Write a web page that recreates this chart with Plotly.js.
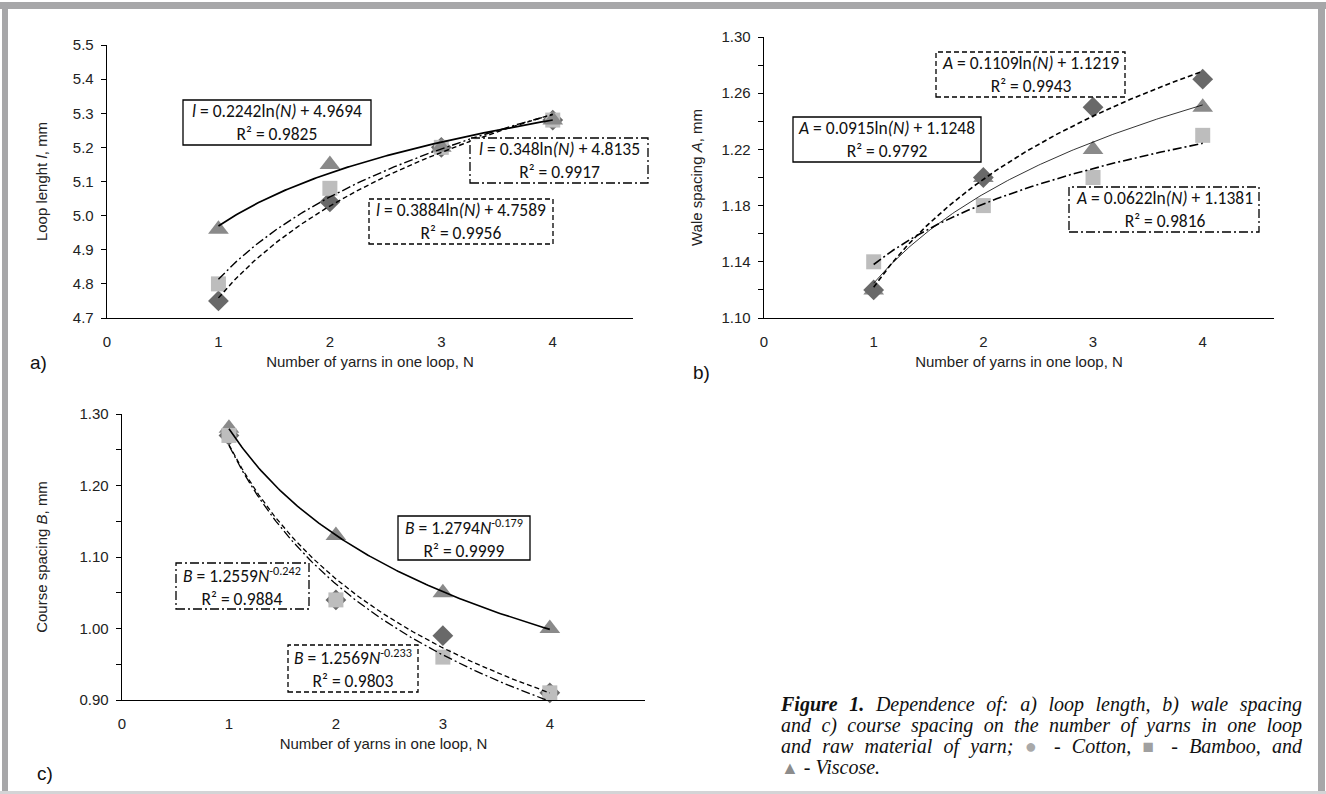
<!DOCTYPE html>
<html>
<head>
<meta charset="utf-8">
<script src="https://cdn.plot.ly/plotly-3.0.1.min.js"></script>
<style>
  html, body { margin: 0; padding: 0; background: #fff; }
  #wrap { position: relative; width: 1326px; height: 794px; overflow: hidden; }
  #chart { position: absolute; left: 0; top: 0; width: 1326px; height: 794px; }
  #caption { position: absolute; left: 781px; top: 694px; width: 521px;
    font-family: 'Liberation Serif', 'Times New Roman', serif; font-style: italic;
    font-size: 20px; line-height: 21px; color: #111; }
  #caption .ln { text-align: justify; text-align-last: justify; white-space: nowrap; height: 21px; }
  #caption .last { text-align: left; text-align-last: left; }
  .sym { font-style: normal; }
</style>
</head>
<body>
<div id="wrap">
  <div id="chart"></div>
  <div id="caption">
    <div class="ln"><b>Figure 1.</b> Dependence of: a) loop length, b) wale spacing</div>
    <div class="ln">and c) course spacing on the number of yarns in one loop</div>
    <div class="ln">and raw material of yarn; <span class="sym" style="color:#a9a9a9;font-size:20px">●</span> - Cotton, <span class="sym" style="color:#a0a0a0;font-size:19px">■</span> - Bamboo, and</div>
    <div class="ln last"><span class="sym" style="color:#8c8c8c;font-size:18px">▲</span> - Viscose.</div>
  </div>
</div>
<script>
// ---------------- data ----------------
const N = [1, 2, 3, 4];
const xTickVals = [0, 1, 2, 3, 4];

const loopCotton  = [4.75, 5.04, 5.20, 5.28];
const loopBamboo  = [4.80, 5.08, 5.20, 5.28];
const loopViscose = [4.96, 5.15, 5.20, 5.28];

const waleCotton  = [1.12, 1.20, 1.25, 1.27];
const waleBamboo  = [1.14, 1.18, 1.20, 1.23];
const waleViscose = [1.12, 1.20, 1.22, 1.25];

const courseCotton  = [1.27, 1.04, 0.99, 0.91];
const courseBamboo  = [1.27, 1.04, 0.96, 0.91];
const courseViscose = [1.28, 1.13, 1.05, 1.00];

const eqLoop = [
  '<i>l</i> = 0.2242ln<i>(N)</i> + 4.9694<br>R² = 0.9825',
  '<i>l</i> = 0.348ln<i>(N)</i> + 4.8135<br>R² = 0.9917',
  '<i>l</i> = 0.3884ln<i>(N)</i> + 4.7589<br>R² = 0.9956'
];
const eqWale = [
  '<i>A</i> = 0.1109ln<i>(N)</i> + 1.1219<br>R² = 0.9943',
  '<i>A</i> = 0.0915ln<i>(N)</i> + 1.1248<br>R² = 0.9792',
  '<i>A</i> = 0.0622ln<i>(N)</i> + 1.1381<br>R² = 0.9816'
];
const eqCourse = [
  '<i>B</i> = 1.2794<i>N</i><sup>-0.179</sup><br>R² = 0.9999',
  '<i>B</i> = 1.2559<i>N</i><sup>-0.242</sup><br>R² = 0.9884',
  '<i>B</i> = 1.2569<i>N</i><sup>-0.233</sup><br>R² = 0.9803'
];

// ---------------- helpers ----------------
const W = 1326, H = 794;
const px = x => x / W;
const py = y => 1 - y / H;

function lsq(xs, ys) {
  const n = xs.length;
  const mx = xs.reduce((a, b) => a + b, 0) / n;
  const my = ys.reduce((a, b) => a + b, 0) / n;
  let sxy = 0, sxx = 0;
  for (let i = 0; i < n; i++) { sxy += (xs[i] - mx) * (ys[i] - my); sxx += (xs[i] - mx) ** 2; }
  const b = sxy / sxx;
  return [b, my - b * mx];
}
const grid = [];
for (let t = 0; t <= 150; t++) grid.push(1 + 3 * t / 150);

function logTrend(ys) {
  const [b, a] = lsq(N.map(Math.log), ys);
  return grid.map(x => a + b * Math.log(x));
}
function powTrend(ys) {
  const [b, a] = lsq(N.map(Math.log), ys.map(Math.log));
  return grid.map(x => Math.exp(a) * Math.pow(x, b));
}

const C_DIAM = '#696969', C_TRI = '#8a8a8a', C_SQ = '#bdbdbd';
const DASH = '5px,3px';
const DASHDOT = '9px,3px,2px,3px';

function trend(xa, ya, ys, dash, width) {
  return { x: grid, y: ys, xaxis: xa, yaxis: ya, mode: 'lines', type: 'scatter',
    line: { color: '#000', width: width, dash: dash }, hoverinfo: 'skip', showlegend: false };
}
function marks(xa, ya, ys, symbol, color, size) {
  return { x: N, y: ys, xaxis: xa, yaxis: ya, mode: 'markers', type: 'scatter', cliponaxis: false,
    marker: { symbol: symbol, color: color, size: size, line: { width: 0 } }, showlegend: false };
}

const traces = [
  // panel a
  marks('x', 'y', loopCotton, 'diamond', C_DIAM, 16),
  marks('x', 'y', loopBamboo, 'square', C_SQ, 15),
  marks('x', 'y', loopViscose, 'triangle-up', C_TRI, 18),
  trend('x', 'y', logTrend(loopCotton), DASH, 1.4),
  trend('x', 'y', logTrend(loopBamboo), DASHDOT, 1.4),
  trend('x', 'y', logTrend(loopViscose), 'solid', 1.7),
  // panel b
  marks('x2', 'y2', waleViscose, 'triangle-up', C_TRI, 18),
  marks('x2', 'y2', waleCotton, 'diamond', C_DIAM, 16),
  marks('x2', 'y2', waleBamboo, 'square', C_SQ, 15),
  trend('x2', 'y2', logTrend(waleCotton), DASH, 1.6),
  trend('x2', 'y2', logTrend(waleBamboo), DASHDOT, 1.6),
  trend('x2', 'y2', logTrend(waleViscose), 'solid', 0.8),
  // panel c
  marks('x3', 'y3', courseCotton, 'diamond', C_DIAM, 16),
  marks('x3', 'y3', courseViscose, 'triangle-up', C_TRI, 18),
  marks('x3', 'y3', courseBamboo, 'square', C_SQ, 15),
  trend('x3', 'y3', powTrend(courseCotton), DASH, 1.3),
  trend('x3', 'y3', powTrend(courseBamboo), DASHDOT, 1.3),
  trend('x3', 'y3', powTrend(courseViscose), 'solid', 1.6)
];

const fam = "'Liberation Sans Narrow', 'Arial Narrow', 'Liberation Sans', Arial, sans-serif";
const tickFont = { family: fam, size: 15, color: '#222' };
const titleFont = { family: fam, size: 15, color: '#222' };
const eqFont = { family: "Carlito, Calibri, Lato, 'Open Sans', sans-serif", size: 17.5, color: '#111' };

function xaxis(domain, range, anchor) {
  return { domain: domain, range: range, anchor: anchor, showline: true, linecolor: '#000', linewidth: 1.3,
    showgrid: false, zeroline: false, ticks: '', tickvals: xTickVals, tickfont: tickFont,
    ticklabelstandoff: 10, fixedrange: true,
    title: { text: 'Number of yarns in one loop, N', font: titleFont, standoff: 7 } };
}
function yaxis(domain, range, anchor, extra, title, standoff) {
  return Object.assign({ domain: domain, range: range, anchor: anchor, showline: true, linecolor: '#000', linewidth: 1.3,
    showgrid: false, zeroline: false, ticks: 'outside', ticklen: 5, tickcolor: '#000', tickwidth: 1,
    tickfont: tickFont, ticklabelstandoff: 4, fixedrange: true,
    title: { text: title, font: titleFont, standoff: standoff } }, extra);
}

const layout = {
  width: W, height: H, margin: { l: 0, r: 0, t: 0, b: 0 }, paper_bgcolor: '#fff', plot_bgcolor: 'rgba(0,0,0,0)',
  showlegend: false,
  xaxis: xaxis([px(107), px(633)], [0, 4.72], 'y'),
  yaxis: yaxis([py(318), py(45)], [4.7, 5.5], 'x', { dtick: 0.1, tick0: 4.7, tickformat: '.1f' }, 'Loop lenght <i>l</i>, mm', 21),
  xaxis2: xaxis([px(764), px(1274)], [0, 4.65], 'y2'),
  yaxis2: yaxis([py(318), py(37)], [1.10, 1.30], 'x2',
    { dtick: 0.04, tick0: 1.10, tickformat: '.2f', minor: { dtick: 0.02, tick0: 1.10, ticks: 'outside', ticklen: 5, tickcolor: '#000', showgrid: false } },
    'Wale spacing <i>A</i>, mm', 15),
  xaxis3: xaxis([px(122), px(645)], [0, 4.89], 'y3'),
  yaxis3: yaxis([py(700), py(414)], [0.90, 1.30], 'x3',
    { dtick: 0.1, tick0: 0.9, tickformat: '.2f', minor: { dtick: 0.05, tick0: 0.9, ticks: 'outside', ticklen: 5, tickcolor: '#000', showgrid: false } },
    'Course spacing <i>B</i>, mm', 28),
  shapes: [],
  annotations: []
};

// frame
const frameCol = '#a7a7a9';
layout.shapes.push(
  { type: 'rect', xref: 'paper', yref: 'paper', x0: 0, x1: 1, y0: py(9), y1: py(2), fillcolor: frameCol, line: { width: 0 }, layer: 'below' },
  { type: 'rect', xref: 'paper', yref: 'paper', x0: px(2), x1: px(8), y0: 0, y1: py(2), fillcolor: frameCol, line: { width: 0 }, layer: 'below' },
  { type: 'rect', xref: 'paper', yref: 'paper', x0: px(1318), x1: px(1325), y0: 0, y1: py(2), fillcolor: frameCol, line: { width: 0 }, layer: 'below' },
  { type: 'rect', xref: 'paper', yref: 'paper', x0: 0, x1: 1, y0: py(794), y1: py(791), fillcolor: '#d4d4d6', line: { width: 0 }, layer: 'below' }
);

function box(x0, y0, x1, y1, dash, text) {
  layout.shapes.push({ type: 'rect', xref: 'paper', yref: 'paper', x0: px(x0), x1: px(x1), y0: py(y1), y1: py(y0),
    fillcolor: 'rgba(255,255,255,0.95)', line: { color: '#000', width: 1.3, dash: dash } });
  layout.annotations.push({ xref: 'paper', yref: 'paper', x: px((x0 + x1) / 2), y: py((y0 + y1) / 2),
    xanchor: 'center', yanchor: 'middle', align: 'center', showarrow: false, text: text, font: eqFont });
}
// panel a boxes
box(183, 100, 371, 145, 'solid', eqLoop[0]);
box(470, 138, 648, 183, DASHDOT, eqLoop[1]);
box(369, 199, 553, 244, DASH, eqLoop[2]);
// panel b boxes
box(936, 52, 1125, 97, DASH, eqWale[0]);
box(793, 117, 981, 162, 'solid', eqWale[1]);
box(1069, 187, 1259, 232, DASHDOT, eqWale[2]);
// panel c boxes
box(398, 516, 530, 560, 'solid', eqCourse[0]);
box(176, 563, 309, 609, DASHDOT, eqCourse[1]);
box(288, 645, 418, 692, DASH, eqCourse[2]);

// panel labels
const panelFont = { family: "'Liberation Sans', Arial, sans-serif", size: 19, color: '#111' };
[['a)', 38, 362], ['b)', 701, 372], ['c)', 45, 773]].forEach(([t, x, y]) => {
  layout.annotations.push({ xref: 'paper', yref: 'paper', x: px(x), y: py(y), xanchor: 'center', yanchor: 'middle',
    showarrow: false, text: t, font: panelFont });
});

Plotly.newPlot('chart', traces, layout, { displayModeBar: false, staticPlot: true });
</script>
</body>
</html>
